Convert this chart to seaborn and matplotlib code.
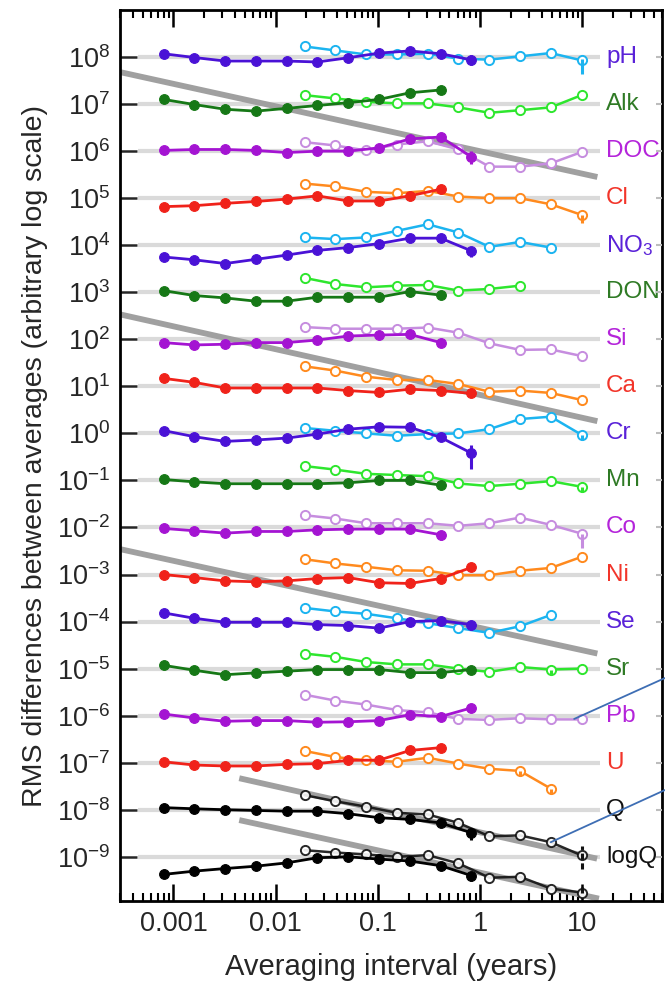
import numpy as np
import pandas as pd
import matplotlib
matplotlib.use("Agg")
import matplotlib.pyplot as plt
import seaborn as sns
from matplotlib.ticker import LogLocator, NullFormatter, FixedLocator

# ---------------- data ----------------
solid_x = [0.0008, 0.0016, 0.0032, 0.0064, 0.0128, 0.0256, 0.0513, 0.103, 0.205, 0.41, 0.82]
open_x = [0.0192, 0.0383, 0.0767, 0.153, 0.307, 0.613, 1.23, 2.45, 4.9, 9.8]

labels = ["pH", "Alk", "DOC", "Cl", "NO$_3$", "DON", "Si", "Ca", "Cr", "Mn",
          "Co", "Ni", "Se", "Sr", "Pb", "U", "Q", "logQ"]
levels = [8, 7, 6, 5, 4, 3, 2, 1, 0, -1, -2, -3, -4, -5, -6, -7, -8, -9]
groups = ["blue", "green", "purple", "red", "blue", "green", "purple", "red", "blue",
          "green", "purple", "red", "blue", "green", "purple", "red", "black", "black"]

# offsets (decades) from each series' reference level
solid_off = {
    "pH":   [0.07, -0.01, -0.085, -0.085, -0.085, -0.105, -0.015, 0.085, 0.13, 0.07, -0.06],
    "Alk":  [0.10, -0.01, -0.11, -0.15, -0.09, -0.03, 0.03, 0.10, 0.24, 0.30],
    "DOC":  [0.015, 0.035, 0.035, 0.015, -0.03, 0.0, 0.0, 0.07, 0.26, 0.30, -0.12],
    "Cl":   [-0.18, -0.16, -0.11, -0.07, -0.02, 0.05, -0.06, -0.06, 0.05, 0.19],
    "NO$_3$": [-0.25, -0.31, -0.39, -0.30, -0.21, -0.11, -0.05, 0.035, 0.15, 0.15, -0.12],
    "DON":  [0.035, -0.07, -0.12, -0.19, -0.19, -0.105, -0.105, -0.105, 0.015, -0.06],
    "Si":   [-0.07, -0.12, -0.105, -0.07, -0.07, -0.015, 0.07, 0.09, 0.105, -0.07],
    "Ca":   [0.17, 0.085, -0.035, -0.035, -0.035, -0.035, -0.09, -0.13, -0.06, -0.09, -0.15],
    "Cr":   [0.06, -0.07, -0.17, -0.14, -0.10, -0.015, 0.09, 0.14, 0.13, -0.085, -0.42],
    "Mn":   [0.02, -0.03, -0.07, -0.07, -0.07, -0.07, -0.05, 0.0, 0.0, -0.10],
    "Co":   [-0.02, -0.07, -0.12, -0.085, -0.085, -0.05, -0.035, -0.035, -0.035, -0.155],
    "Ni":   [0.0, -0.065, -0.135, -0.155, -0.135, -0.085, -0.065, -0.175, -0.19, -0.085, 0.15],
    "Se":   [0.185, 0.07, -0.015, -0.015, -0.015, -0.065, -0.085, -0.14, 0.0, 0.02, -0.065],
    "Sr":   [0.07, -0.035, -0.13, -0.09, -0.055, -0.02, -0.02, -0.02, -0.085, -0.085, -0.02],
    "Pb":   [0.035, -0.05, -0.12, -0.105, -0.105, -0.14, -0.13, -0.105, 0.02, -0.02, 0.165],
    "U":    [0.02, -0.05, -0.07, -0.07, -0.035, -0.02, 0.05, 0.055, 0.26, 0.32],
    "Q":    [0.045, 0.02, 0.0, -0.015, -0.03, -0.03, -0.085, -0.17, -0.205, -0.28, -0.49],
    "logQ": [-0.375, -0.305, -0.25, -0.20, -0.13, -0.02, 0.0, -0.05, -0.09, -0.19, -0.40],
}
open_off = {
    "pH":   [0.225, 0.14, 0.055, 0.055, 0.07, -0.035, -0.055, 0.015, 0.085, -0.07],
    "Alk":  [0.19, 0.12, 0.05, 0.015, 0.015, -0.07, -0.185, -0.13, -0.07, 0.19],
    "DOC":  [0.19, 0.12, 0.015, 0.14, 0.21, 0.035, -0.33, -0.33, -0.26, -0.02],
    "Cl":   [0.31, 0.25, 0.135, 0.105, 0.155, 0.035, 0.0, 0.0, -0.13, -0.355],
    "NO$_3$": [0.165, 0.13, 0.165, 0.305, 0.445, 0.27, -0.035, 0.07, -0.05],
    "DON":  [0.305, 0.175, 0.105, 0.14, 0.155, 0.035, 0.07, 0.14],
    "Si":   [0.26, 0.225, 0.225, 0.225, 0.25, 0.14, -0.085, -0.225, -0.215, -0.355],
    "Ca":   [0.425, 0.335, 0.205, 0.135, 0.135, 0.05, -0.115, -0.09, -0.14, -0.29],
    "Cr":   [0.115, 0.055, 0.0, -0.05, -0.015, 0.0, 0.09, 0.305, 0.355, -0.03],
    "Mn":   [0.305, 0.23, 0.14, 0.115, 0.09, -0.065, -0.12, -0.07, -0.015, -0.135],
    "Co":   [0.26, 0.19, 0.09, 0.09, 0.09, 0.035, 0.09, 0.21, 0.055, -0.13],
    "Ni":   [0.325, 0.235, 0.165, 0.09, 0.08, -0.015, -0.015, 0.08, 0.14, 0.375],
    "Se":   [0.29, 0.215, 0.165, 0.07, -0.035, -0.14, -0.24, -0.10, 0.14],
    "Sr":   [0.32, 0.25, 0.14, 0.09, 0.09, 0.0, -0.07, 0.035, -0.02, 0.0],
    "Pb":   [0.445, 0.32, 0.235, 0.12, 0.07, -0.07, -0.09, -0.055, -0.08, -0.08],
    "U":    [0.25, 0.12, 0.05, 0.02, 0.105, -0.02, -0.13, -0.175, -0.55],
    "Q":    [0.31, 0.18, 0.065, -0.065, -0.10, -0.28, -0.565, -0.545, -0.69, -0.97],
    "logQ": [0.14, 0.09, 0.05, 0.0, 0.035, -0.14, -0.445, -0.425, -0.675, -0.76],
}
# error bars: (label, 'solid'/'open', point index, lower decades, upper decades)
err_bars = [
    ("pH", "solid", 10, 0.10, 0.10), ("pH", "open", 9, 0.30, 0.03),
    ("DOC", "solid", 10, 0.15, 0.12), ("Cl", "open", 9, 0.17, 0.0),
    ("NO$_3$", "solid", 10, 0.12, 0.08), ("Ca", "solid", 9, 0.08, 0.05),
    ("Ca", "solid", 10, 0.08, 0.05), ("Cr", "solid", 10, 0.33, 0.17),
    ("Cr", "open", 9, 0.12, 0.0), ("Mn", "open", 9, 0.12, 0.0),
    ("Co", "solid", 9, 0.12, 0.0), ("Co", "open", 9, 0.30, 0.0),
    ("Se", "solid", 10, 0.12, 0.05), ("Sr", "solid", 9, 0.10, 0.0),
    ("Sr", "solid", 10, 0.05, 0.05), ("Sr", "open", 8, 0.10, 0.0),
    ("U", "open", 7, 0.10, 0.0), ("U", "open", 8, 0.10, 0.0),
    ("Q", "solid", 9, 0.05, 0.05), ("Q", "solid", 10, 0.15, 0.10),
    ("Q", "open", 9, 0.30, 0.20), ("logQ", "solid", 10, 0.12, 0.05),
    ("logQ", "open", 9, 0.0, 0.15),
]
# grey reference lines (slope about -1/2): x ends and log10(y) ends
fit_x = [[3.0e-4, 14.0], [3.0e-4, 14.0], [3.0e-4, 14.0], [0.0044, 13.9], [0.0044, 14.5]]
fit_logy = [[7.68, 5.45], [2.53, 0.26], [-2.46, -4.68], [-7.33, -9.04], [-8.22, -9.89]]

palette = {
    "blue":   ("#4A12D6", "#1CB4F0", "#5A22D8"),
    "green":  ("#167816", "#2EE62E", "#2F7A25"),
    "purple": ("#A414D2", "#C68DDF", "#B424DA"),
    "red":    ("#F0221A", "#FF8A1E", "#F2352A"),
    "black":  ("#000000", "#111111", "#111111"),
}

# ---------------- style ----------------
sns.set_style("ticks")
plt.rcParams["font.family"] = ["Liberation Sans", "DejaVu Sans"]
plt.rcParams["mathtext.fontset"] = "custom"
plt.rcParams["mathtext.rm"] = "Liberation Sans"
plt.rcParams["mathtext.it"] = "Liberation Sans:italic"
plt.rcParams["mathtext.bf"] = "Liberation Sans:bold"

fig = plt.figure(figsize=(6.65, 9.89), dpi=100)
ax = fig.add_axes([120 / 665, 1 - 901 / 989, (662 - 120) / 665, (901 - 10) / 989])
ax.set_xscale("log")
ax.set_yscale("log")
xlim = (3.0e-4, 60.0)
ylim = (10 ** -9.94, 10 ** 9.0)
ax.set_xlim(*xlim)
ax.set_ylim(*ylim)

# horizontal reference lines
for lv in levels:
    ax.plot([4.5e-4, 15.0], [10.0 ** lv, 10.0 ** lv], color="#DADADA", lw=3.0,
            zorder=1, solid_capstyle="butt")

# grey slope lines
for fx, fy in zip(fit_x, fit_logy):
    ax.plot(fx, [10.0 ** v for v in fy], color="#A0A0A0", lw=4.2, zorder=2,
            solid_capstyle="butt")

for lab, lv, g in zip(labels, levels, groups):
    cs, co, cl = palette[g]
    so = solid_off[lab]
    oo = open_off[lab]
    ys = [10.0 ** (lv + v) for v in so]
    yo = [10.0 ** (lv + v) for v in oo]
    df_s = pd.DataFrame({"x": solid_x[:len(so)], "y": ys})
    df_o = pd.DataFrame({"x": open_x[:len(oo)], "y": yo})
    sns.lineplot(data=df_o, x="x", y="y", ax=ax, color=co, lw=1.8, marker="o",
                 markersize=6.6, markerfacecolor="white", markeredgecolor=co,
                 markeredgewidth=1.4, errorbar=None, zorder=4,
                 alpha=0.9 if g == "black" else 1.0)
    sns.lineplot(data=df_s, x="x", y="y", ax=ax, color=cs, lw=2.0, marker="o",
                 markersize=7.0, markerfacecolor=cs, markeredgecolor=cs,
                 markeredgewidth=0.8, errorbar=None, zorder=5)
    ax.text(17.0, 10.0 ** lv, lab, color=cl, fontsize=17.5, va="center", ha="left",
            zorder=6, clip_on=False)

lab_idx = {l: i for i, l in enumerate(labels)}
for lab, kind, i, lo, hi in err_bars:
    k = lab_idx[lab]
    g = groups[k]
    cs, co, cl = palette[g]
    if kind == "solid":
        xv = solid_x[i]; ov = solid_off[lab][i]; c = cs
    else:
        xv = open_x[i]; ov = open_off[lab][i]; c = co
    base = levels[k] + ov
    ax.plot([xv, xv], [10.0 ** (base - lo), 10.0 ** (base + hi)], color=c, lw=2.2,
            zorder=5, solid_capstyle="butt",
            ls=(0, (2, 1.2)) if g == "black" and kind == "open" else "-")

# blue callout lines leaving the panel
pb = lab_idx["Pb"]
ax.annotate("", xy=(8.3, 10.0 ** (levels[pb] - 0.07)), xycoords="data",
            xytext=(1.0, 1 - 678 / 989), textcoords="figure fraction",
            arrowprops=dict(arrowstyle="-", color="#3E6EB4", lw=1.3,
                            shrinkA=0, shrinkB=0), annotation_clip=False, zorder=7)
q = lab_idx["Q"]
ax.annotate("", xy=(open_x[8], 10.0 ** (levels[q] + open_off["Q"][8])), xycoords="data",
            xytext=(1.0, 1 - 790 / 989), textcoords="figure fraction",
            arrowprops=dict(arrowstyle="-", color="#3E6EB4", lw=1.3,
                            shrinkA=0, shrinkB=0), annotation_clip=False, zorder=7)

# faint ticks on the right spine
ax2 = ax.twinx()
ax2.set_yscale("log")
ax2.set_ylim(*ylim)
ax2.yaxis.set_major_locator(FixedLocator([10.0 ** lv for lv in levels]))
ax2.yaxis.set_minor_locator(FixedLocator([]))
ax2.tick_params(axis="y", which="major", direction="in", length=4, width=1.5,
                color="#BDBDBD", labelright=False)
for s in ax2.spines.values():
    s.set_visible(False)

# axes cosmetics
ax.yaxis.set_major_locator(FixedLocator([10.0 ** lv for lv in levels]))
ax.yaxis.set_minor_locator(FixedLocator([]))
ax.xaxis.set_minor_locator(LogLocator(base=10, subs=np.arange(2, 10), numticks=100))
ax.xaxis.set_minor_formatter(NullFormatter())
ax.set_xticks([0.001, 0.01, 0.1, 1, 10])
ax.set_xticklabels(["0.001", "0.01", "0.1", "1", "10"])
ax.tick_params(axis="x", which="major", direction="in", length=12, width=1.8,
               top=True, bottom=True, labelsize=19.5, pad=7, color="black")
ax.tick_params(axis="x", which="minor", direction="in", length=6, width=1.5,
               top=True, bottom=True, color="black")
ax.tick_params(axis="y", which="major", direction="in", length=12, width=1.8,
               left=True, right=False, labelsize=19.5, pad=7)
ax.set_xlim(*xlim)
for s in ax.spines.values():
    s.set_linewidth(2.0)
    s.set_color("black")
ax.set_xlabel("Averaging interval (years)", fontsize=21, labelpad=12)
ax.set_ylabel("RMS differences between averages (arbitrary log scale)",
              fontsize=20.5, labelpad=6)
ax.grid(False)

fig.savefig("out.png", dpi=100)
